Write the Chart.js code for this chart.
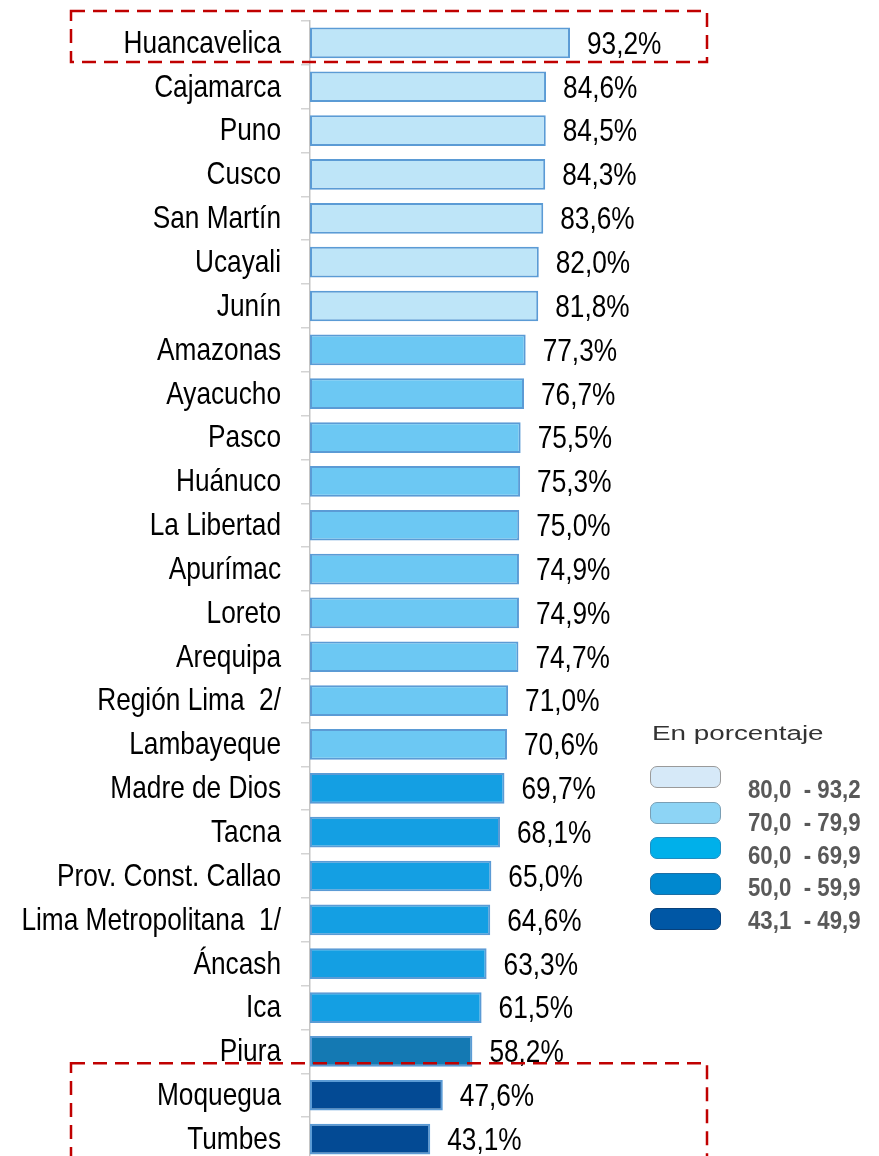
<!DOCTYPE html>
<html>
<head>
<meta charset="utf-8">
<script src="https://cdn.jsdelivr.net/npm/chart.js@4"></script>
<style>
  html, body { margin: 0; padding: 0; background: #fff; overflow: hidden; }
  #wrap { position: absolute; left: 0; top: 0; width: 879px; height: 1163px; }
  #legend { position: absolute; left: 0; top: 0; }
  .lg-title { position: absolute; left: 652px; top: 722px; font: 20px "Liberation Sans", Arial, sans-serif; color: #333; white-space: nowrap; transform-origin: 0 0; }
  .lg-box { position: absolute; left: 650px; width: 71px; height: 22px; border-radius: 7px; box-sizing: border-box; }
  .lg-txt { position: absolute; left: 748px; font: bold 25px "Liberation Sans", Arial, sans-serif; color: #595959; white-space: pre; line-height: 25px; transform: scaleX(0.89); transform-origin: 0 0; }
</style>
</head>
<body>
<div id="wrap"><canvas id="chart" width="879" height="1163"></canvas></div>
<div id="legend"></div>
<script>
// datos (porcentaje)
const regions = ["Huancavelica", "Cajamarca", "Puno", "Cusco", "San Martín", "Ucayali", "Junín",
  "Amazonas", "Ayacucho", "Pasco", "Huánuco", "La Libertad", "Apurímac", "Loreto", "Arequipa",
  "Región Lima  2/", "Lambayeque", "Madre de Dios", "Tacna", "Prov. Const. Callao",
  "Lima Metropolitana  1/", "Áncash", "Ica", "Piura", "Moquegua", "Tumbes"];
const values = [93.2, 84.6, 84.5, 84.3, 83.6, 82.0, 81.8, 77.3, 76.7, 75.5, 75.3, 75.0, 74.9, 74.9,
  74.7, 71.0, 70.6, 69.7, 68.1, 65.0, 64.6, 63.3, 61.5, 58.2, 47.6, 43.1];
const legendTitle = "En porcentaje";
const legendRanges = ["80,0  - 93,2", "70,0  - 79,9", "60,0  - 69,9", "50,0  - 59,9", "43,1  - 49,9"];
const legendLows = [80, 70, 60, 50, 0];
const highlighted = [[0], [24, 25]];

const barColors = ["#BEE5F8", "#6CC8F3", "#149FE3", "#1479B3", "#034A94"];
const legendFill = ["#D6E9F8", "#8DD4F5", "#00B0EA", "#0088CF", "#0057A5"];
const legendEdge = ["#9A9A9A", "#7A9FB5", "#1E8CC0", "#1C6FA5", "#08407A"];

// Arial Narrow no está instalada: se comprime Liberation Sans
const FONT = '32px "Liberation Sans", Arial, sans-serif';
const SQUEEZE = 0.82;

function group(v) {
  return legendLows.findIndex(lo => v >= lo);
}
const fmt = v => v.toFixed(1).replace('.', ',') + '%';

// leyenda
const lg = document.getElementById('legend');
const t = document.createElement('div');
t.className = 'lg-title';
t.textContent = legendTitle;
lg.appendChild(t);
t.style.transform = 'scaleX(' + (171 / t.offsetWidth) + ')';
legendRanges.forEach((r, i) => {
  const b = document.createElement('div');
  b.className = 'lg-box';
  b.style.top = (766 + i * 35.5) + 'px';
  b.style.background = legendFill[i];
  b.style.border = '1.5px solid ' + legendEdge[i];
  lg.appendChild(b);
  const s = document.createElement('div');
  s.className = 'lg-txt';
  s.style.top = (777 + i * 32.8) + 'px';
  s.textContent = r;
  lg.appendChild(s);
});

function narrowText(ctx, str, x, y, align) {
  ctx.save();
  ctx.translate(x, y);
  ctx.scale(SQUEEZE, 1);
  ctx.textAlign = align;
  ctx.fillText(str, 0, 0);
  ctx.restore();
}

const textLayer = {
  id: 'textLayer',
  afterDatasetsDraw(chart) {
    const ctx = chart.ctx;
    const yScale = chart.scales.y;
    ctx.save();
    ctx.font = FONT;
    ctx.fillStyle = '#000';
    ctx.textBaseline = 'middle';
    regions.forEach((r, i) => {
      narrowText(ctx, r, yScale.right - 29, yScale.getPixelForValue(i) + 1, 'right');
    });
    chart.getDatasetMeta(0).data.forEach((bar, i) => {
      narrowText(ctx, fmt(values[i]), bar.x + 17, bar.y + 2, 'left');
    });
    ctx.restore();
  }
};

const dashedBoxes = {
  id: 'dashedBoxes',
  afterDraw(chart) {
    const y = chart.scales.y;
    const ctx = chart.ctx;
    ctx.save();
    ctx.strokeStyle = '#C00000';
    ctx.lineWidth = 2.5;
    ctx.setLineDash([14, 8]);
    highlighted.forEach(idx => {
      const top = y.getPixelForValue(idx[0]) - 32;
      const bottom = y.getPixelForValue(idx[idx.length - 1]) + 19;
      ctx.strokeRect(71, top, 636, bottom - top);
    });
    ctx.restore();
  }
};

new Chart(document.getElementById('chart'), {
  type: 'bar',
  data: {
    labels: regions,
    datasets: [{
      data: values,
      backgroundColor: values.map(v => barColors[group(v)]),
      borderColor: '#5B9BD5',
      borderWidth: 2,
      borderSkipped: false,
      barPercentage: 0.7,
      categoryPercentage: 1
    }]
  },
  options: {
    indexAxis: 'y',
    responsive: false,
    animation: false,
    devicePixelRatio: 1,
    layout: { padding: { top: 21, right: 290, bottom: 2, left: 0 } },
    plugins: { legend: { display: false }, tooltip: { enabled: false } },
    scales: {
      x: { display: false, min: 0, max: 100 },
      y: {
        afterFit(scale) {
          scale.width = 310;
          scale.paddingTop = 0;
          scale.paddingBottom = 0;
        },
        grid: { drawOnChartArea: false, drawTicks: true, tickLength: 9, color: '#D3D3D3', lineWidth: 1.5, offset: true },
        border: { display: true, color: '#C4C4C4', width: 1.5 },
        ticks: { display: false }
      }
    }
  },
  plugins: [textLayer, dashedBoxes]
});
</script>
</body>
</html>
